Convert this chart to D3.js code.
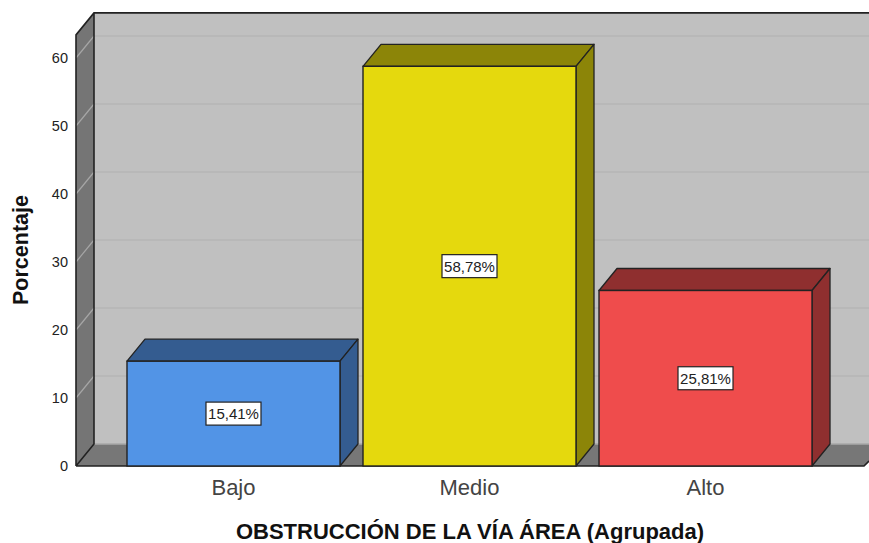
<!DOCTYPE html>
<html><head><meta charset="utf-8">
<script src="https://cdn.jsdelivr.net/npm/d3@7/dist/d3.min.js"></script>
<style>html,body{margin:0;padding:0;background:#fff}svg{display:block}text{font-family:"Liberation Sans",Arial,sans-serif}</style>
</head><body><svg id="c" width="869" height="543"></svg>
<script>
const categories = ["Bajo","Medio","Alto"];
const values = [15.41,58.78,25.81];
const labels = ["15,41%","58,78%","25,81%"];
const frontColors = ["#5294e6","#e5d90d","#ef4c4c"];
const sideColors = ["#345c90","#8c8508","#8f2f2f"];
const yTicks = [0,10,20,30,40,50,60];
const xTitle = "OBSTRUCCIÓN DE LA VÍA ÁREA (Agrupada)";
const yTitle = "Porcentaje";

const svg = d3.select("#c");
const y = d3.scaleLinear().domain([0,60]).range([466,58]);
const x = d3.scaleBand().domain(categories).range([115.5,823.5]).paddingInner(0.0975).paddingOuter(0.0487);
const dx = 18, dy = -22;
const yTop = y(63.4), xL = 76, xR = 864, W = 869;
const ink = "#222";

// back wall
svg.append("rect").attr("x",xL+dx).attr("y",yTop+dy).attr("width",W-xL-dx+2).attr("height",y(0)-yTop).attr("fill","#c0c0c0");
// back wall lines
svg.append("g").selectAll("line").data(yTicks.slice(1)).join("line")
  .attr("x1",xL+dx).attr("x2",W).attr("y1",d=>y(d)+dy).attr("y2",d=>y(d)+dy)
  .attr("stroke","#b6b6b6").attr("stroke-width",1.3);
// floor
svg.append("path").attr("d",`M${xL},${y(0)}L${xL+dx},${y(0)+dy}L${W},${y(0)+dy}L${W},${y(0)-5}L${xR},${y(0)}Z`).attr("fill","#777777");
svg.append("line").attr("x1",xL+dx).attr("x2",W).attr("y1",y(0)+dy).attr("y2",y(0)+dy).attr("stroke","#a8a8a8").attr("stroke-width",1.5);
// left wall
svg.append("path").attr("d",`M${xL},${y(0)}L${xL+dx},${y(0)+dy}L${xL+dx},${yTop+dy}L${xL},${yTop}Z`).attr("fill","#757575");
svg.append("g").selectAll("line").data(yTicks.slice(1)).join("line")
  .attr("x1",xL).attr("x2",xL+dx).attr("y1",d=>y(d)).attr("y2",d=>y(d)+dy)
  .attr("stroke","#a6a6a6").attr("stroke-width",1.2);
// outlines
svg.append("path").attr("d",`M${xL},${y(0)}L${xL},${yTop}L${xL+dx},${yTop+dy}L${W},${yTop+dy}M${xL+dx},${yTop+dy}L${xL+dx},${y(0)+dy}L${xL},${y(0)}M${xL},${y(0)}L${xR},${y(0)}L${W},${y(0)-5}`)
  .attr("fill","none").attr("stroke",ink).attr("stroke-width",1.6);
// y ticks and labels
const yAxis = d3.axisLeft(y).tickValues(yTicks).tickSize(0).tickPadding(8);
const gy = svg.append("g").attr("transform",`translate(${xL},0)`).call(yAxis);
gy.select(".domain").remove();
gy.selectAll("text").attr("font-size",14.5).attr("fill","#222").style("font-family",'"Liberation Sans",Arial,sans-serif');

// bars
const bars = svg.append("g").selectAll("g").data(categories).join("g");
bars.each(function(c,i){
  const g = d3.select(this), x0 = x(c), bw = x.bandwidth(), x1 = x0+bw, t = y(values[i]), b = y(0);
  g.append("path").attr("d",`M${x0},${t}L${x0+dx},${t+dy}L${x1+dx},${t+dy}L${x1},${t}Z`).attr("fill",sideColors[i]).attr("stroke",ink).attr("stroke-width",1.3).attr("stroke-linejoin","round");
  g.append("path").attr("d",`M${x1},${t}L${x1+dx},${t+dy}L${x1+dx},${b+dy}L${x1},${b}Z`).attr("fill",sideColors[i]).attr("stroke",ink).attr("stroke-width",1.3).attr("stroke-linejoin","round");
  g.append("rect").attr("x",x0).attr("y",t).attr("width",bw).attr("height",b-t).attr("fill",frontColors[i]).attr("stroke",ink).attr("stroke-width",1.4);
  const cx = x0+bw/2, cy = (t+b)/2;
  g.append("rect").attr("x",cx-27.5).attr("y",cy-11.5).attr("width",55).attr("height",23).attr("fill","#fff").attr("stroke",ink).attr("stroke-width",1.2);
  g.append("text").attr("x",cx).attr("y",cy).attr("dy","0.36em").attr("text-anchor","middle").attr("font-size",15).attr("fill","#222").text(labels[i]);
});

// x labels
svg.append("g").selectAll("text").data(categories).join("text")
  .attr("x",d=>x(d)+x.bandwidth()/2).attr("y",495).attr("text-anchor","middle")
  .attr("font-size",22).attr("fill","#444").text(d=>d);
// titles
svg.append("text").attr("x",470).attr("y",539).attr("text-anchor","middle").attr("font-size",22).attr("font-weight","bold").attr("fill","#111").text(xTitle);
svg.append("text").attr("transform","translate(28,250) rotate(-90)").attr("text-anchor","middle").attr("font-size",21.5).attr("font-weight","bold").attr("fill","#111").text(yTitle);
</script></body></html>
